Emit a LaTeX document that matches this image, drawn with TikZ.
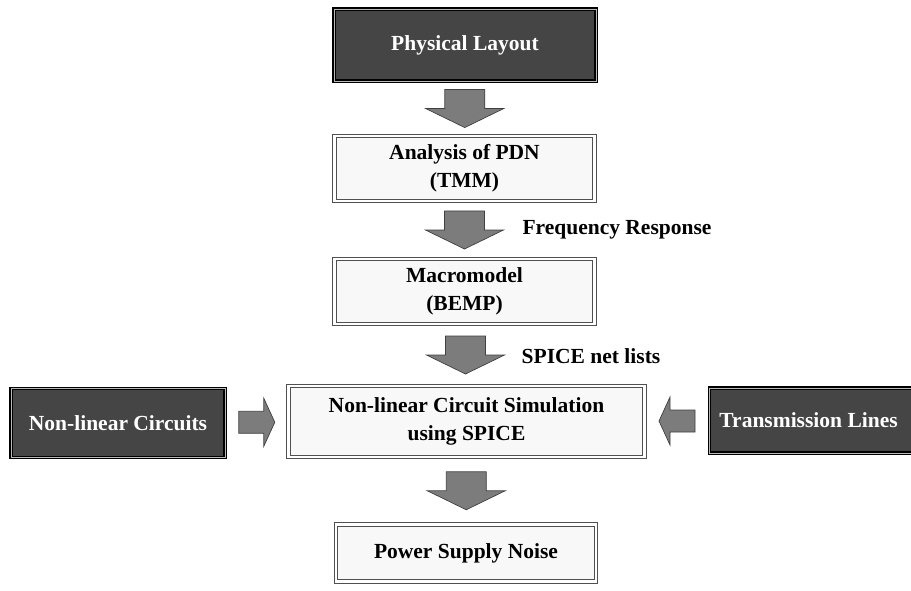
\documentclass[tikz,border=0pt]{standalone}
\usepackage{fontspec}
\setmainfont{Liberation Serif}
\usetikzlibrary{calc}
\definecolor{darkbox}{HTML}{454545}
\definecolor{lightbox}{HTML}{F8F8F8}
\definecolor{arrowfill}{HTML}{7C7C7C}
\definecolor{edgegray}{HTML}{505050}
\tikzset{
  lbl/.style={font=\fontsize{21.5}{28}\selectfont\bfseries, align=center},
  darknode/.style={lbl, rectangle, fill=darkbox, draw=black, line width=1.2pt,
     double=gray!55, double distance=0.8pt, text=white, inner sep=0pt},
  lightnode/.style={lbl, rectangle, fill=lightbox, draw=edgegray, line width=1pt,
     double=white, double distance=2.2pt, text=black, inner sep=0pt},
  freelbl/.style={lbl, text=black},
  fatarrow/.style={fill=arrowfill, draw=black!75, line width=0.7pt, line join=miter},
  fatdown/.style={to path={
     let \p3=($(\tikztostart)!0.5!(\tikztotarget)$) in
     (\x3-20pt,\y3+19pt) -- (\x3+20pt,\y3+19pt) -- (\x3+20pt,\y3) --
     (\x3+39pt,\y3) -- (\x3,\y3-19pt) -- (\x3-39pt,\y3) -- (\x3-20pt,\y3) -- cycle}},
  fatright/.style={to path={
     let \p3=($(\tikztostart)!0.5!(\tikztotarget)$) in
     (\x3-18pt,\y3+11pt) -- (\x3+7pt,\y3+11pt) -- (\x3+7pt,\y3+24pt) --
     (\x3+18pt,\y3) -- (\x3+7pt,\y3-24pt) -- (\x3+7pt,\y3-11pt) -- (\x3-18pt,\y3-11pt) -- cycle}},
  fatleft/.style={to path={
     let \p3=($(\tikztostart)!0.5!(\tikztotarget)$) in
     (\x3+18pt,\y3+11pt) -- (\x3-7pt,\y3+11pt) -- (\x3-7pt,\y3+24pt) --
     (\x3-18pt,\y3) -- (\x3-7pt,\y3-24pt) -- (\x3-7pt,\y3-11pt) -- (\x3+18pt,\y3-11pt) -- cycle}},
}
\begin{document}
\begin{tikzpicture}[x=1pt,y=1pt]
\useasboundingbox[fill=white] (0,0) rectangle (911,-591);

\node[darknode, minimum width=262pt, minimum height=72pt] (phys) at (465,-45) {\raisebox{-3pt}{Physical Layout}};
\node[lightnode, minimum width=260pt, minimum height=65pt] (pdn) at (464.5,-168.5) {Analysis of PDN\\(TMM)};
\node[lightnode, minimum width=260pt, minimum height=65pt] (macro) at (464.5,-291.5) {Macromodel\\(BEMP)};
\node[lightnode, minimum width=356pt, minimum height=71pt] (sim) at (466.5,-421.5) {Non-linear Circuit Simulation\\using SPICE};
\node[darknode, minimum width=214pt, minimum height=69pt] (nlc) at (118,-423) {Non-linear Circuits};
\node[darknode, minimum width=206pt, minimum height=65pt, anchor=west] (tl) at (709,-420.5) {\hspace*{-8pt}Transmission Lines};
\node[lightnode, minimum width=260pt, minimum height=57pt] (psn) at (466,-553) {Power Supply Noise};

\node[freelbl] (fr) at (617,-230) {Frequency Response};
\node[freelbl] (spl) at (591,-356) {SPICE net lists};

\draw[fatarrow] (phys.south) to[fatdown] (pdn.north);
\draw[fatarrow] (pdn.south) to[fatdown] (macro.north);
\draw[fatarrow] (macro.south) to[fatdown] (sim.north);
\draw[fatarrow] (sim.south) to[fatdown] (psn.north);
\draw[fatarrow] (nlc.east) to[fatright] (sim.west);
\draw[fatarrow] (tl.west) to[fatleft] (sim.east);
\end{tikzpicture}
\end{document}
